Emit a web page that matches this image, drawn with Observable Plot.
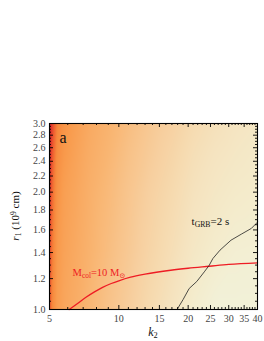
<!DOCTYPE html>
<html><head><meta charset="utf-8">
<script src="https://cdn.jsdelivr.net/npm/d3@7"></script>
<script src="https://cdn.jsdelivr.net/npm/@observablehq/plot@0.6"></script>
<style>
html,body{margin:0;padding:0;background:#fff;}
svg{display:block;}
</style></head><body><div id="chart"></div>
<script>
// ---- data ----
const k2Grid = [5, 5.15, 5.4, 5.8, 6.5, 7.5, 9, 11, 13.5, 17, 21, 26, 32, 40];
const r1Grid = [1.0, 1.4, 2.0, 2.5, 3.0];
// shade level (0 = red, 1 = pale) for each r1 row along k2Grid
const shadeR1_10 = [0.07, 0.17, 0.25, 0.30, 0.34, 0.41, 0.50, 0.59, 0.70, 0.81, 0.93, 1.00, 1.00, 1.00];
const shadeR1_14 = [0.05, 0.14, 0.23, 0.28, 0.32, 0.38, 0.46, 0.55, 0.65, 0.75, 0.85, 0.92, 0.96, 0.97];
const shadeR1_20 = [0.02, 0.11, 0.20, 0.26, 0.30, 0.36, 0.43, 0.52, 0.61, 0.70, 0.79, 0.85, 0.89, 0.91];
const shadeR1_25 = [0.00, 0.08, 0.18, 0.23, 0.28, 0.34, 0.40, 0.49, 0.57, 0.66, 0.75, 0.81, 0.85, 0.88];
const shadeR1_30 = [0.00, 0.05, 0.15, 0.21, 0.26, 0.32, 0.38, 0.46, 0.54, 0.62, 0.71, 0.77, 0.82, 0.85];
const shadeRows = [shadeR1_10, shadeR1_14, shadeR1_20, shadeR1_25, shadeR1_30];

const colorStops = [0, 0.08, 0.16, 0.24, 0.32, 0.40, 0.50, 0.60, 0.70, 0.80, 0.90, 1.0];
const colorRange = ["#d8222a", "#ee5a30", "#f7883c", "#f99c4e", "#f9aa62", "#f9b673",
                    "#f8c38a", "#f7cf9f", "#f6daaf", "#f5e3bf", "#f4ebcb", "#f2f1d8"];

// M_col = 10 Msun curve
const mcolK2 = [6.09, 6.62, 7.2, 7.84, 8.5, 9.27, 10, 11.25, 13, 16.8, 20, 24.7, 30, 40];
const mcolR1 = [1.0, 1.036, 1.075, 1.11, 1.14, 1.166, 1.185, 1.21, 1.232, 1.261, 1.276, 1.291, 1.305, 1.317];
// t_GRB = 2 s curve
const tgrbK2 = [17.9, 19.0, 20.2, 21.8, 23.5, 24.7, 25.6, 27.5, 30.7, 34, 37.6, 40];
const tgrbR1 = [1.0, 1.06, 1.132, 1.18, 1.249, 1.299, 1.351, 1.42, 1.506, 1.56, 1.614, 1.675];

const xDomain = [5, 40];
const yDomain = [1, 3];
const xTicks = [5, 10, 15, 20, 25, 30, 35, 40];
const xTickLabels = ["5", "10", "15", "20", "25", "30", "35", "40"];
const yTicks = [1.0, 1.2, 1.4, 1.6, 1.8, 2.0, 2.2, 2.4, 2.6, 2.8, 3.0];
const yTickLabels = ["1.0","1.2","1.4","1.6","1.8","2.0","2.2","2.4","2.6","2.8","3.0"];

// ---- build tables ----
const field = [];
r1Grid.forEach((r, j) => k2Grid.forEach((k, i) => field.push({k, r, v: shadeRows[j][i]})));
const mcol = mcolK2.map((k, i) => ({k, r: mcolR1[i]}));
const tgrb = tgrbK2.map((k, i) => ({k, r: tgrbR1[i]}));
const xMinor = d3.range(6, 40).filter(d => !xTicks.includes(d));
const yMinor = d3.range(1.05, 3.0, 0.05).map(d => +d.toFixed(2)).filter(d => Math.abs(Math.round(d * 5) - d * 5) > 1e-6);

const W = 264, H = 341, mL = 49, mR = 7, mT = 123, mB = 32;
const FW = W - mL - mR, FH = H - mT - mB;
const font = "'Liberation Serif', 'DejaVu Serif', serif";

// inward ticks on every side
const tickMarks = [];
[[xTicks, 4], [xMinor, 2]].forEach(([t, s]) => {
  tickMarks.push(Plot.tickX(t, {x: d => d, insetTop: FH - s, stroke: "#000", strokeWidth: 0.9}));
  tickMarks.push(Plot.tickX(t, {x: d => d, insetBottom: FH - s, stroke: "#000", strokeWidth: 0.9}));
});
[[yTicks, 4], [yMinor, 2]].forEach(([t, s]) => {
  tickMarks.push(Plot.tickY(t, {y: d => d, insetRight: FW - s, stroke: "#000", strokeWidth: 0.9}));
  tickMarks.push(Plot.tickY(t, {y: d => d, insetLeft: FW - s, stroke: "#000", strokeWidth: 0.9}));
});

const plot = Plot.plot({
  width: W, height: H,
  marginLeft: mL, marginRight: mR, marginTop: mT, marginBottom: mB,
  style: {fontFamily: font, fontSize: "10px", background: "#fff"},
  x: {type: "log", domain: xDomain},
  y: {type: "log", domain: yDomain},
  color: {type: "linear", domain: colorStops, range: colorRange, interpolate: "rgb"},
  marks: [
    Plot.raster(field, {x: "k", y: "r", fill: "v", interpolate: "barycentric", pixelSize: 1,
      x1: xDomain[0], x2: xDomain[1], y1: yDomain[0], y2: yDomain[1]}),
    Plot.line(mcol, {x: "k", y: "r", stroke: "#ee1c24", strokeWidth: 1.3, curve: "monotone-x"}),
    Plot.line(tgrb, {x: "k", y: "r", stroke: "#222", strokeWidth: 0.8}),
    Plot.text([{k: 6.3, r: 1.246}], {x: "k", y: "r", text: () => "Mcol", textAnchor: "start", fill: "#ee1c24", fontSize: 10.5, className: "lbl-mcol"}),
    Plot.text([{k: 20.7, r: 1.68}], {x: "k", y: "r", text: () => "tGRB", textAnchor: "start", fill: "#111", fontSize: 11, className: "lbl-tgrb"}),
    Plot.text(["a"], {frameAnchor: "top-left", text: d => d, dx: 10, dy: 8, fontSize: 16, fill: "#111", textAnchor: "start"}),
    ...tickMarks,
    // tick labels
    Plot.axisX({anchor: "bottom", ticks: xTicks, tickSize: 0, tickPadding: 5, tickFormat: (d) => xTickLabels[xTicks.indexOf(d)], label: null, fill: "#444", fontSize: 10}),
    Plot.axisY({anchor: "left", ticks: yTicks, tickSize: 0, tickPadding: 4, tickFormat: (d) => yTickLabels[yTicks.findIndex(t => Math.abs(t - d) < 1e-9)], label: null, fill: "#444", fontSize: 10}),
    Plot.frame({stroke: "#000", strokeWidth: 1.1})
  ]
});

const svg = d3.select(plot);
// rich annotations with subscripts
function rich(sel, parts) {
  sel.text(null);
  parts.forEach(([t, kind]) => {
    const ts = sel.append("tspan").text(t);
    if (kind === "sub") ts.attr("baseline-shift", "-25%").attr("font-size", "70%");
    if (kind === "sup") ts.attr("baseline-shift", "40%").attr("font-size", "70%");
    if (kind === "it") ts.attr("font-style", "italic");
  });
}
svg.selectAll(".lbl-mcol text").each(function () {
  rich(d3.select(this), [["M", ""], ["col", "sub"], ["=10 M", ""], ["\u2299", "sub"]]);
});
svg.selectAll(".lbl-tgrb text").each(function () {
  rich(d3.select(this), [["t", ""], ["GRB", "sub"], ["=2 s", ""]]);
});
// axis titles
const fx = mL + FW / 2;
const fy = mT + FH / 2;
const xl = svg.append("text").attr("x", fx).attr("y", H - 5).attr("text-anchor", "middle")
  .attr("font-family", font).attr("font-size", 12).attr("fill", "#111");
rich(xl, [["k", "it"], ["2", "sub"]]);
const yl = svg.append("text").attr("transform", `translate(${mL - 30},${fy}) rotate(-90)`)
  .attr("text-anchor", "middle").attr("font-family", font).attr("font-size", 11).attr("fill", "#111");
rich(yl, [["r", "it"], ["1", "sub"], [" (10", ""], ["9", "sup"], [" cm)", ""]]);

document.getElementById("chart").appendChild(plot);
</script>
</body></html>
